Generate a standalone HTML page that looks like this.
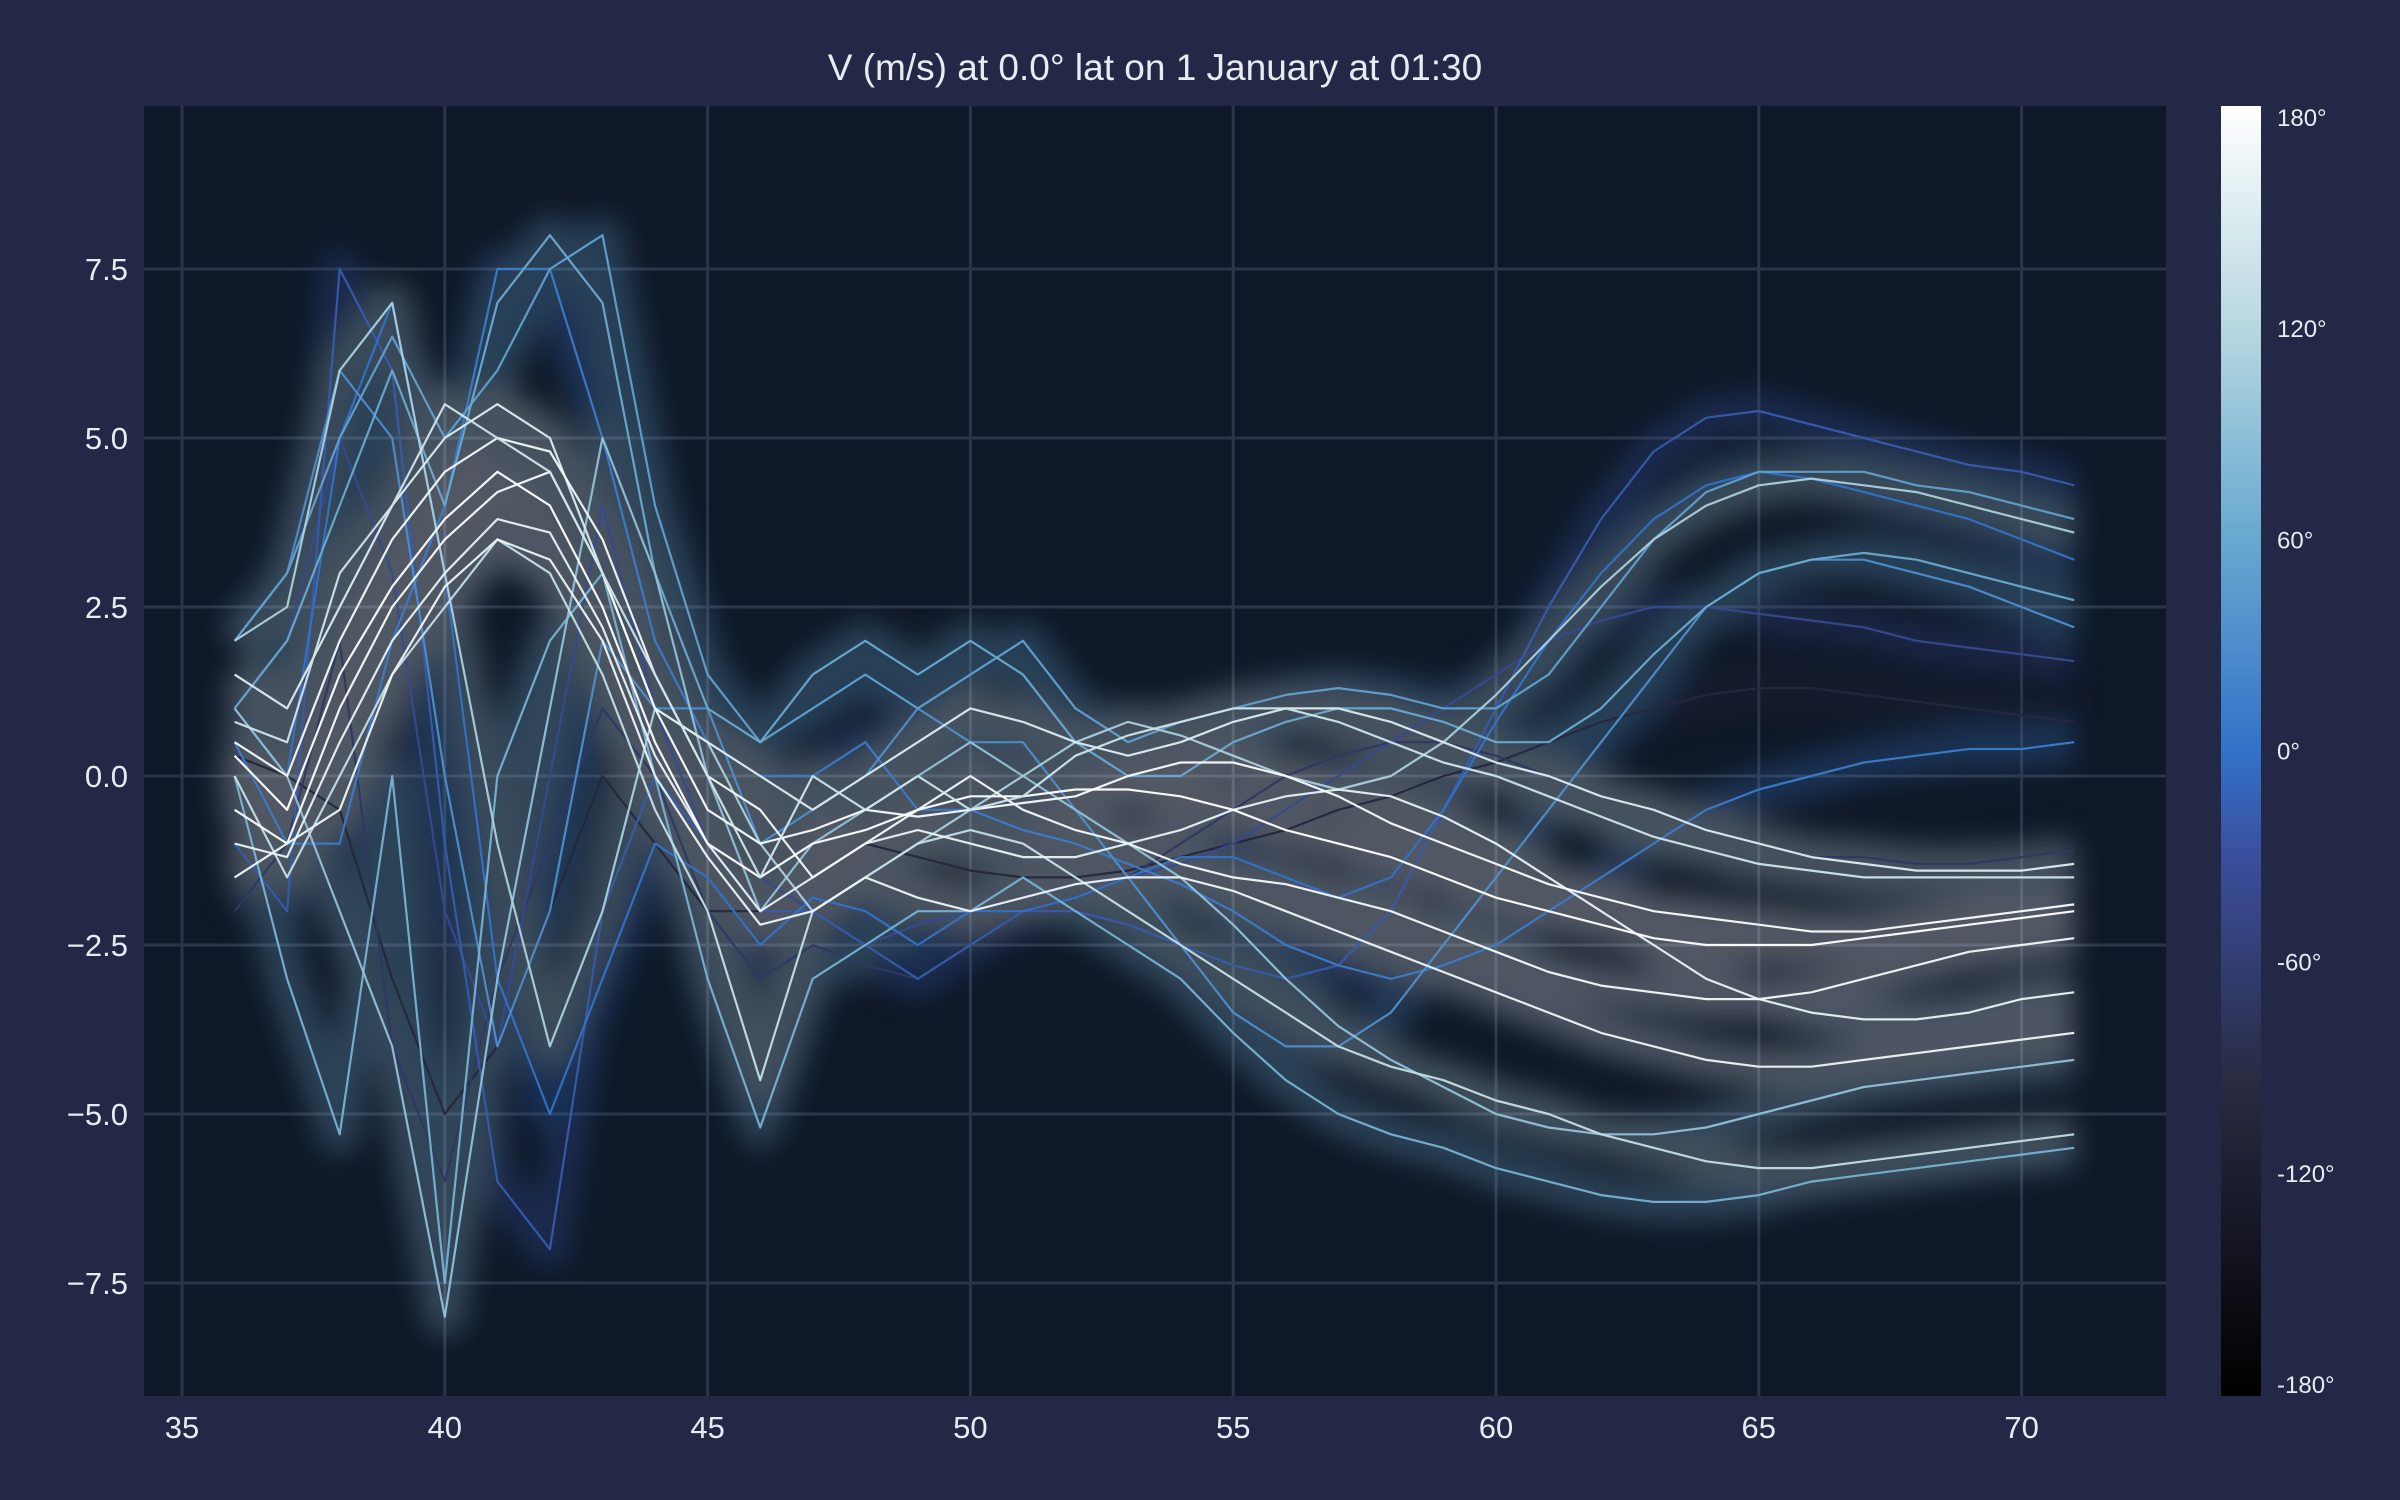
<!DOCTYPE html>
<html><head><meta charset="utf-8"><style>
body{margin:0;background:#222845;}
svg{display:block;font-family:"Liberation Sans",sans-serif;}
</style></head><body>
<svg id="chart" width="2400" height="1500">
<defs>
<linearGradient id="cbg" x1="0" y1="1" x2="0" y2="0">
<stop offset="0" stop-color="#000000"/>
<stop offset="0.25" stop-color="#2a2c45"/>
<stop offset="0.42" stop-color="#3a4f9e"/>
<stop offset="0.5" stop-color="#3272c8"/>
<stop offset="0.67" stop-color="#6aaad0"/>
<stop offset="0.83" stop-color="#b8d8e0"/>
<stop offset="1" stop-color="#ffffff"/>
</linearGradient>
<clipPath id="pc"><rect x="144" y="106" width="2022" height="1290"/></clipPath>
<filter id="blur" x="-10%" y="-10%" width="120%" height="120%"><feGaussianBlur stdDeviation="14"/></filter>
</defs>
<rect width="2400" height="1500" fill="#222845"/>
<text x="1155" y="80" fill="#e8ecf2" font-size="37" text-anchor="middle">V (m/s) at 0.0° lat on 1 January at 01:30</text>
<rect x="144" y="106" width="2022" height="1290" fill="#0f1828"/>
<g id="grid"></g>
<g clip-path="url(#pc)"><g id="glow" filter="url(#blur)" opacity="0.28"></g></g>
<g id="lines" clip-path="url(#pc)"></g>
<g id="ticks"></g>
<rect x="2221" y="106" width="40" height="1290" fill="url(#cbg)"/>
<g id="cbticks"></g>
</svg>
<script>
const xValues=[36,37,38,39,40,41,42,43,44,45,46,47,48,49,50,51,52,53,54,55,56,57,58,59,60,61,62,63,64,65,66,67,68,69,70,71];
const xTicks=[35,40,45,50,55,60,65,70];
const yTicks=[-7.5,-5,-2.5,0,2.5,5,7.5];
const cbTicks=[-180,-120,-60,0,60,120,180];
const seriesAngles=[-100,-70,-40,-20,0,10,30,50,60,70,90,110,130,150,160,170,175,180,140,165];
const s0=[0.3,0,-0.5,-3,-5,-4,-2,0,-1,-2,-2,-1.5,-1,-1.2,-1.4,-1.5,-1.5,-1.4,-1.2,-1,-0.8,-0.5,-0.3,0,0.2,0.5,0.8,1,1.2,1.3,1.3,1.2,1.1,1,0.9,0.8];
const s1=[-2,-1,2,-4,-6,-3,-1,1,0,-2,-3,-2.5,-2.8,-3,-2.5,-2,-1.8,-1.5,-1,-0.5,0,0.3,0.5,0.5,0.3,0,-0.3,-0.5,-0.8,-1,-1.2,-1.2,-1.3,-1.3,-1.2,-1.1];
const s2=[1,2,5,3,-2,-4,0,4,1,-1,-1.5,-2,-2.5,-2.2,-2,-1.8,-1.6,-1.5,-1.3,-1,-0.5,0,0.5,1,1.5,2,2.3,2.5,2.5,2.4,2.3,2.2,2,1.9,1.8,1.7];
const s3=[-1,-2,7.5,6,-1,-6,-7,-2,0,-1,-2,-2,-2.5,-3,-2.5,-2,-2,-2.2,-2.5,-2.8,-3,-2.8,-2,-0.5,1,2.5,3.8,4.8,5.3,5.4,5.2,5,4.8,4.6,4.5,4.3];
const s4=[1,0,5,7,3,-3,-5,-3,-1,-1.5,-2.5,-1.8,-2,-2.5,-2,-2,-1.8,-1.5,-1.2,-1.2,-1.5,-1.8,-1.5,-0.5,0.8,2,3,3.8,4.3,4.5,4.4,4.2,4,3.8,3.5,3.2];
const s5=[0.5,-1,-1,2,4,7.5,7.5,5,2,0.5,0,0,0.5,-0.5,-0.5,-0.8,-1,-1.3,-1.6,-2,-2.5,-2.8,-3,-2.8,-2.5,-2,-1.5,-1,-0.5,-0.2,0,0.2,0.3,0.4,0.4,0.5];
const s6=[2,3,6,5,0,-4,-2,2,1,1,-1,-0.5,0,1,0.5,0.5,-0.5,-1.5,-2.5,-3.5,-4,-4,-3.5,-2.5,-1.5,-0.5,0.5,1.5,2.5,3,3.2,3.2,3,2.8,2.5,2.2];
const s7=[2,3,5,6.5,5,6,7.5,8,4,1.5,0.5,1,1.5,1,1.5,2,1,0.5,0.8,1,1.2,1.3,1.2,1,1,1.5,2.5,3.5,4.2,4.5,4.5,4.5,4.3,4.2,4,3.8];
const s8=[1,2,4,6,4,7,8,7,3,1,0.5,1.5,2,1.5,2,1.5,0.5,0,0,0.5,0.8,1,1,0.8,0.5,0.5,1,1.8,2.5,3,3.2,3.3,3.2,3,2.8,2.6];
const s9=[0,-3,-5.3,0,-7.5,0,2,3,0,-3,-5.2,-3,-2.5,-2,-2,-1.5,-2,-2.5,-3,-3.8,-4.5,-5,-5.3,-5.5,-5.8,-6,-6.2,-6.3,-6.3,-6.2,-6,-5.9,-5.8,-5.7,-5.6,-5.5];
const s10=[1,0,-2,-4,-8,-3,1,5,3,0,-2,-1,-0.5,0,0.5,0,-0.5,-1,-1.5,-2.2,-3,-3.7,-4.2,-4.6,-5,-5.2,-5.3,-5.3,-5.2,-5,-4.8,-4.6,-4.5,-4.4,-4.3,-4.2];
const s11=[2,2.5,6,7,3,-1,-4,-2,1,0.5,-1,-2,-1.5,-1,-0.5,0,0.5,0.8,0.6,0.3,0,-0.2,0,0.5,1.2,2,2.8,3.5,4,4.3,4.4,4.3,4.2,4,3.8,3.6];
const s12=[0,-1.5,0,1.5,2.5,3.5,3,1.5,-0.5,-2,-4.5,-2,-1.5,-1,-0.8,-1,-1.5,-2,-2.5,-3,-3.5,-4,-4.3,-4.5,-4.8,-5,-5.3,-5.5,-5.7,-5.8,-5.8,-5.7,-5.6,-5.5,-5.4,-5.3];
const s13=[1.5,1,2.5,4,5,5.5,5,3,1,0.5,0,-0.5,0,0.5,1,0.8,0.5,0.3,0.5,0.8,1,1,0.8,0.5,0.2,0,-0.3,-0.5,-0.8,-1,-1.2,-1.3,-1.4,-1.4,-1.4,-1.3];
const s14=[-1,-1.2,0.5,2,3,3.8,3.6,2.2,0.3,-1,-2,-1.5,-1,-0.8,-1,-1.2,-1.2,-1,-0.8,-0.5,-0.3,-0.2,-0.3,-0.6,-1,-1.5,-2,-2.5,-3,-3.3,-3.5,-3.6,-3.6,-3.5,-3.3,-3.2];
const s15=[0.5,0,2,3.5,4.5,5,4.8,3.5,1.5,0,-0.5,-1.5,-1,-0.5,0,-0.5,-0.8,-1,-1.3,-1.5,-1.6,-1.8,-2,-2.3,-2.6,-2.9,-3.1,-3.2,-3.3,-3.3,-3.2,-3,-2.8,-2.6,-2.5,-2.4];
const s16=[-0.5,-1,1,2.5,3.5,4.2,4.5,3,1,-0.5,-1,-0.8,-0.5,-0.6,-0.5,-0.4,-0.3,0,0.2,0.2,0,-0.3,-0.7,-1,-1.3,-1.6,-1.8,-2,-2.1,-2.2,-2.3,-2.3,-2.2,-2.1,-2,-1.9];
const s17=[0.3,-0.5,1.5,2.8,3.8,4.5,4,2.5,0.5,-1,-1.5,-1,-0.8,-0.5,-0.3,-0.3,-0.2,-0.2,-0.3,-0.5,-0.8,-1,-1.2,-1.5,-1.8,-2,-2.2,-2.4,-2.5,-2.5,-2.5,-2.4,-2.3,-2.2,-2.1,-2];
const s18=[0.8,0.5,3,4,5.5,5,4.5,3,1.5,0,-1.5,0,-0.5,0,-0.5,-0.3,0.3,0.6,0.8,1,1,0.8,0.5,0.2,0,-0.3,-0.6,-0.9,-1.1,-1.3,-1.4,-1.5,-1.5,-1.5,-1.5,-1.5];
const s19=[-1.5,-1,-0.5,1.5,2.8,3.5,3.2,2,0,-1.2,-2.2,-2,-1.5,-1.8,-2,-1.8,-1.6,-1.5,-1.5,-1.7,-2,-2.3,-2.6,-2.9,-3.2,-3.5,-3.8,-4,-4.2,-4.3,-4.3,-4.2,-4.1,-4,-3.9,-3.8];
const allSeries=[s0,s1,s2,s3,s4,s5,s6,s7,s8,s9,s10,s11,s12,s13,s14,s15,s16,s17,s18,s19];

const NS="http://www.w3.org/2000/svg";
const X0=144,X1=2166,Y0=106,Y1=1396;
function xs(v){return 182+(v-35)*52.56;}
function ys(v){return 776-v*67.6;}
function cbY(a){return 1385-(a+180)/360*1267;}
const stops=[[-180,[0,0,0]],[-90,[42,44,69]],[-30,[58,79,158]],[0,[50,114,200]],[60,[106,170,208]],[120,[184,216,224]],[180,[255,255,255]]];
function cmap(a){for(let i=0;i<stops.length-1;i++){const [a0,c0]=stops[i],[a1,c1]=stops[i+1];if(a<=a1){const t=(a-a0)/(a1-a0);return 'rgb('+c0.map((c,k)=>Math.round(c+(c1[k]-c)*t)).join(',')+')';}}return '#fff';}
function mk(tag,attrs,parent){const e=document.createElementNS(NS,tag);for(const k in attrs)e.setAttribute(k,attrs[k]);parent.appendChild(e);return e;}

const grid=document.getElementById('grid'),ticks=document.getElementById('ticks');
xTicks.forEach(t=>{
  const g=mk('line',{x1:xs(t),x2:xs(t),y1:Y0,y2:Y1,stroke:'#2c3548','stroke-width':3},grid);
  
  
  const l=mk('text',{x:xs(t),y:1438,fill:'#e8ecf2','font-size':31,'text-anchor':'middle'},ticks);
  l.textContent=t;
  
  
});
yTicks.forEach(t=>{
  const g=mk('line',{x1:X0,x2:X1,y1:ys(t),y2:ys(t),stroke:'#2c3548','stroke-width':3},grid);
  
  
  const l=mk('text',{x:128,y:ys(t)+11,fill:'#e8ecf2','font-size':31,'text-anchor':'end'},ticks);
  l.textContent=(t<0?'\u2212'+(-t).toFixed(1):t.toFixed(1));
  
  
});
const glow=document.getElementById('glow'),lines=document.getElementById('lines');
allSeries.forEach((s,i)=>{
  const d=s.map((v,j)=>(j?'L':'M')+xs(xValues[j]).toFixed(1)+' '+ys(v).toFixed(1)).join(' ');
  const col=cmap(seriesAngles[i]);
  const gl=mk('path',{d:d,fill:'none',stroke:col,'stroke-width':40,'stroke-linejoin':'round'},glow);
  
  
  const p=mk('path',{d:d,fill:'none',stroke:col,'stroke-width':2.2,opacity:0.95,'stroke-linejoin':'round'},lines);
  
  
});
const cb=document.getElementById('cbticks');
cbTicks.forEach(a=>{
  const l=mk('text',{x:2277,y:cbY(a)+8,fill:'#e8ecf2','font-size':24},cb);
  l.textContent=a+'°';
  
  
});
</script>
</body></html>
